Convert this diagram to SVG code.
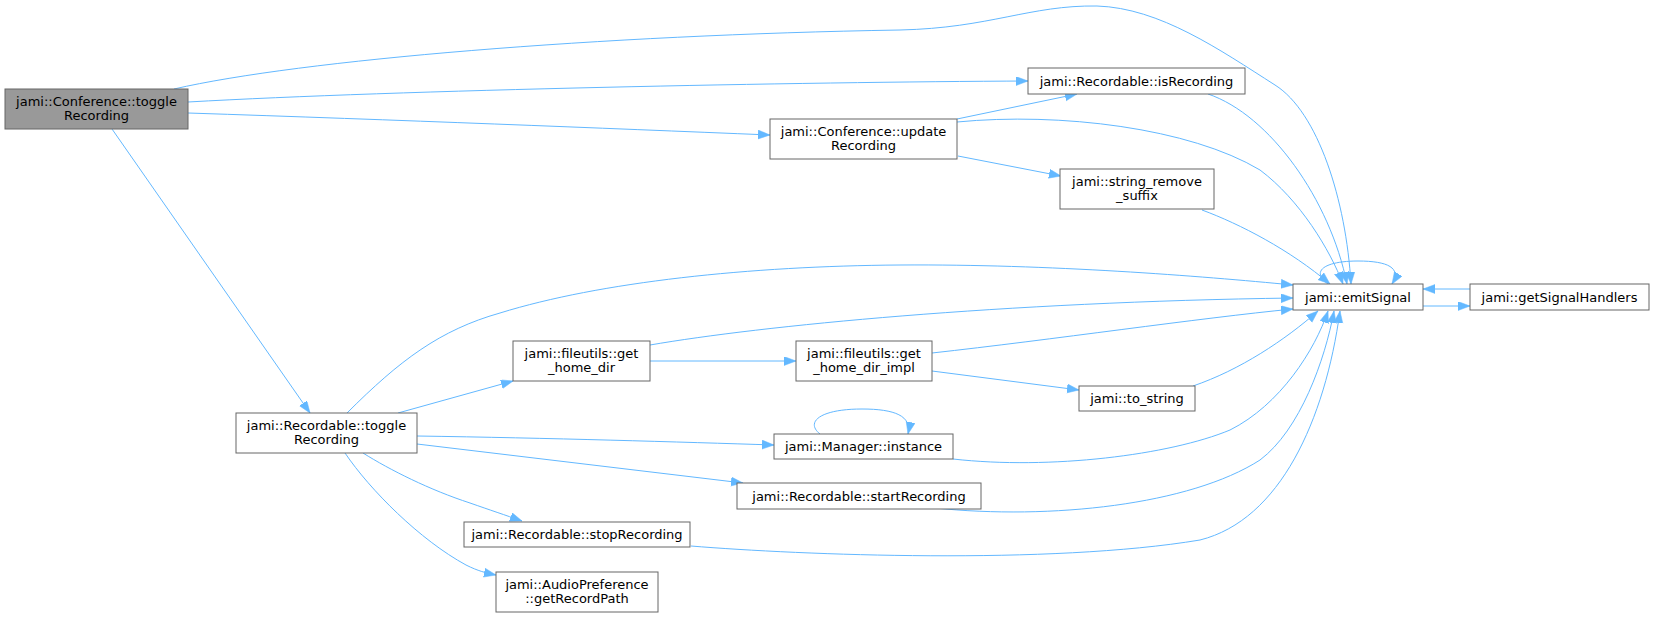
<svg xmlns="http://www.w3.org/2000/svg" width="1655" height="617" viewBox="0 0 1655 617">
<style>
.box{fill:#ffffff;stroke:#666666;stroke-width:1}
.root{fill:#999999;stroke:#666666;stroke-width:1}
text{font-family:"DejaVu Sans","Liberation Sans",sans-serif;font-size:13px;fill:#000000;text-anchor:middle}
.e{fill:none;stroke:#63b8ff;stroke-width:1;marker-end:url(#ah)}
</style>
<defs>
<marker id="ah" markerUnits="userSpaceOnUse" markerWidth="13" markerHeight="10" refX="12" refY="4.5" orient="auto">
<path d="M0,0 L12,4.5 L0,9 z" fill="#63b8ff" stroke="#63b8ff" stroke-width="0.5"/>
</marker>
</defs>
<rect width="1655" height="617" fill="#ffffff"/>
<g id="connectors">
<path class="e" d="M174,89 C300,60 600,35 900,30 C990,28 1030,5 1097,6 C1160,8 1220,50 1275,85 C1318,112 1346,200 1351,284"/>
<path class="e" d="M188,102 C400,90 800,82 1028,81"/>
<path class="e" d="M188,113 C400,120 600,128 770,135"/>
<path class="e" d="M112,129 L310,413"/>
<path class="e" d="M957,119 L1077,94"/>
<path class="e" d="M957,122 C1060,112 1190,128 1260,170 C1300,200 1330,250 1343,284"/>
<path class="e" d="M958,156 L1061,176"/>
<path class="e" d="M1208,94 C1270,115 1330,200 1347,284"/>
<path class="e" d="M1202,210 C1240,224 1290,250 1330,284"/>
<path class="e" d="M1328,284 C1310,271 1325,261 1358,261 C1388,261 1402,268 1392,284"/>
<path class="e" d="M1470,289 L1423,289"/>
<path class="e" d="M1423,306 L1470,306"/>
<path class="e" d="M347,413 C400,360 440,330 500,313 C600,282 750,266 900,265 C1050,264 1200,276 1293,285"/>
<path class="e" d="M650,345 C760,326 1000,302 1293,298"/>
<path class="e" d="M932,353 C1050,340 1200,318 1293,309"/>
<path class="e" d="M1193,386 C1240,370 1285,340 1318,311"/>
<path class="e" d="M953,459 C1050,470 1170,455 1230,430 C1280,405 1315,350 1328,311"/>
<path class="e" d="M935,508 C1050,520 1190,505 1260,460 C1300,430 1325,360 1334,311"/>
<path class="e" d="M691,546 C800,555 1050,565 1200,540 C1280,520 1325,420 1340,311"/>
<path class="e" d="M398,413 L513,381"/>
<path class="e" d="M417,436 C550,438 680,442 774,445"/>
<path class="e" d="M417,444 L743,483"/>
<path class="e" d="M363,453 C390,470 430,490 470,503 C490,510 505,515 522,521"/>
<path class="e" d="M345,453 C370,490 420,540 466,565 C478,571 486,573 496,575"/>
<path class="e" d="M650,361 L796,361"/>
<path class="e" d="M932,371 L1079,390"/>
<path class="e" d="M820,434 C805,422 820,409 862,409 C895,409 912,416 908,434"/>
</g>
<g id="conf_toggleRecording"><rect class="root" x="5" y="89" width="183" height="40"/><text x="96.5" y="106">jami::Conference::toggle</text><text x="96.5" y="120">Recording</text></g>
<g id="isRecording"><rect class="box" x="1028" y="68" width="217" height="26"/><text x="1136.5" y="85.5">jami::Recordable::isRecording</text></g>
<g id="updateRecording"><rect class="box" x="770" y="119" width="187" height="40"/><text x="863.5" y="136">jami::Conference::update</text><text x="863.5" y="150">Recording</text></g>
<g id="string_remove_suffix"><rect class="box" x="1060" y="169" width="154" height="40"/><text x="1137" y="186">jami::string_remove</text><text x="1137" y="200">_suffix</text></g>
<g id="emitSignal"><rect class="box" x="1293" y="284" width="130" height="26"/><text x="1358" y="301.5">jami::emitSignal</text></g>
<g id="getSignalHandlers"><rect class="box" x="1470" y="284" width="179" height="26"/><text x="1559.5" y="301.5">jami::getSignalHandlers</text></g>
<g id="rec_toggleRecording"><rect class="box" x="236" y="413" width="181" height="40"/><text x="326.5" y="430">jami::Recordable::toggle</text><text x="326.5" y="444">Recording</text></g>
<g id="get_home_dir"><rect class="box" x="513" y="341" width="137" height="40"/><text x="581.5" y="358">jami::fileutils::get</text><text x="581.5" y="372">_home_dir</text></g>
<g id="get_home_dir_impl"><rect class="box" x="796" y="341" width="136" height="40"/><text x="864" y="358">jami::fileutils::get</text><text x="864" y="372">_home_dir_impl</text></g>
<g id="to_string"><rect class="box" x="1079" y="386" width="116" height="25"/><text x="1137" y="403">jami::to_string</text></g>
<g id="manager_instance"><rect class="box" x="774" y="434" width="179" height="25"/><text x="863.5" y="451">jami::Manager::instance</text></g>
<g id="startRecording"><rect class="box" x="737" y="483" width="244" height="26"/><text x="859" y="500.5">jami::Recordable::startRecording</text></g>
<g id="stopRecording"><rect class="box" x="464" y="522" width="226" height="25"/><text x="577" y="539">jami::Recordable::stopRecording</text></g>
<g id="getRecordPath"><rect class="box" x="496" y="572" width="162" height="40"/><text x="577" y="589">jami::AudioPreference</text><text x="577" y="603">::getRecordPath</text></g>
</svg>
